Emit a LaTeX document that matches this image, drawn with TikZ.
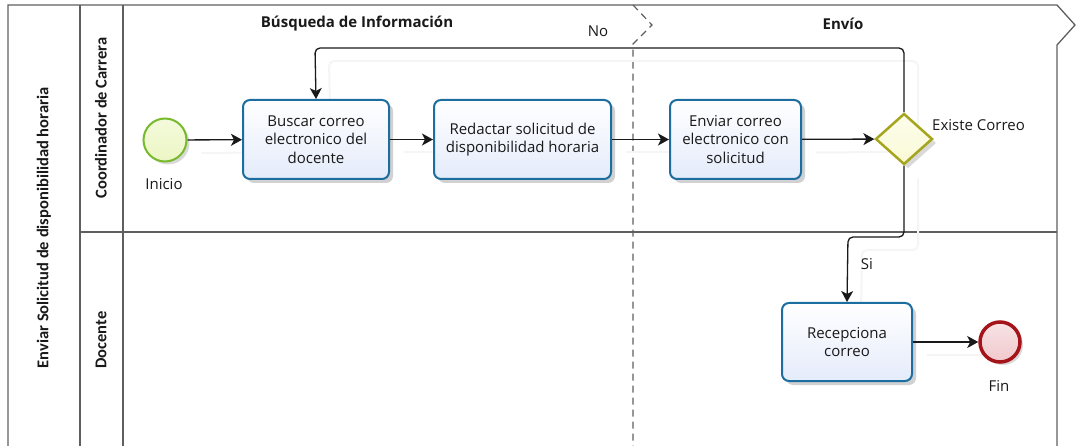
\documentclass[tikz,border=0pt]{standalone}
\usepackage{fontspec}
\setmainfont{Open Sans}
\newfontfamily\lanefont{Carlito}
\usetikzlibrary{shapes.geometric,arrows.meta,shadows}
\definecolor{taskline}{RGB}{28,110,160}
\definecolor{taskfill}{RGB}{228,235,250}
\definecolor{startline}{RGB}{120,185,45}
\definecolor{startfill}{RGB}{236,246,196}
\definecolor{endline}{RGB}{165,20,25}
\definecolor{endfill}{RGB}{240,200,204}
\definecolor{gwline}{RGB}{165,165,30}
\definecolor{gwfill}{RGB}{250,250,215}
\definecolor{poolline}{RGB}{95,95,95}
\definecolor{txt}{RGB}{25,25,25}
\pgfdeclarelayer{bg}
\pgfsetlayers{bg,main}
\tikzset{
  task/.style={rectangle, rounded corners=7pt, draw=taskline, line width=2pt,
    top color=white, bottom color=taskfill, text=txt, align=center, inner sep=0pt,
    font=\fontsize{15}{18.5}\selectfont,
    drop shadow={shadow xshift=4pt, shadow yshift=-4pt, opacity=.18, fill=black}},
  startev/.style={circle, minimum size=43pt, inner sep=0pt, draw=startline, line width=2pt,
    top color=white!40!startfill, bottom color=startfill,
    drop shadow={shadow xshift=3pt, shadow yshift=-3pt, opacity=.15, fill=black}},
  endev/.style={circle, minimum size=40pt, inner sep=0pt, draw=endline, line width=3.5pt,
    top color=white!50!endfill, bottom color=endfill,
    drop shadow={shadow xshift=3pt, shadow yshift=-3pt, opacity=.15, fill=black}},
  gateway/.style={diamond, minimum width=57pt, minimum height=51pt, inner sep=0pt,
    draw=gwline, line width=2.5pt, top color=white!50!gwfill, bottom color=gwfill,
    drop shadow={shadow xshift=4pt, shadow yshift=-4pt, opacity=.15, fill=black}},
  lbl/.style={text=txt, font=\fontsize{15}{18}\selectfont, inner sep=0pt},
  phase/.style={text=txt, font=\fontsize{15}{18}\selectfont\bfseries, inner sep=0pt},
  lane/.style={text=txt, font=\lanefont\fontsize{16.5}{19}\selectfont\bfseries, inner sep=0pt, rotate=90},
  frame/.style={draw=poolline, line width=1.3pt},
  flow/.style={draw=black!90, line width=1.3pt, rounded corners=5pt,
    -{Stealth[length=11pt,width=12pt,inset=3pt]}},
  flowshadow/.style={draw=black!4, line width=2pt, rounded corners=5pt}
}
\begin{document}
\begin{tikzpicture}[x=1pt,y=-1pt]
\useasboundingbox (0,0) rectangle (1076,446);
% nodes
\node[startev] (start) at (165,140) {};
\node[lbl] (inicio) at (164,184) {Inicio};
\node[task, minimum width=146pt, minimum height=79pt] (b1) at (316,139.5) {Buscar correo\\electronico del\\docente};
\node[task, minimum width=177pt, minimum height=79pt] (b2) at (522.5,139.5) {Redactar solicitud de\\disponibilidad horaria};
\node[task, minimum width=131pt, minimum height=79pt] (b3) at (735.5,139.5) {Enviar correo\\electronico con\\solicitud};
\node[gateway] (gw) at (904,139) {};
\node[lbl, anchor=west] (existe) at (932,125) {Existe Correo};
\node[task, minimum width=130pt, minimum height=78pt] (b4) at (847,342) {Recepciona\\correo};
\node[endev] (fin) at (1000,342) {};
\node[lbl] (finlbl) at (999,386) {Fin};
\node[lbl] (no) at (598,31) {No};
\node[lbl] (si) at (867,264) {Si};
\node[phase] (ph1) at (357,24) {Búsqueda de Información};
\node[phase] (ph2) at (843,24) {Envío};
\node[lane] (pool) at (44,228) {Enviar Solicitud de disponibilidad horaria};
\node[lane] (lane1) at (101,118) {Coordinador de Carrera};
\node[lane] (lane2) at (101,340) {Docente};
\coordinate (looptop) at (315,48);
\coordinate (sibend) at (848,237);
% pool frame and faint connector shadows
\begin{pgfonlayer}{bg}
\draw[frame] (8,446) -- (8,5) -- (1057,5) -- (1075,25) -- (1057,45) -- (1057,446);
\draw[frame] (80,5) -- (80,446);
\draw[frame] (123,5) -- (123,446);
\draw[frame] (80,232) -- (1057,232);
\draw[draw=poolline, line width=1.2pt, dash pattern=on 7pt off 5pt] (633,5) -- (652,25) -- (633,44) -- (633,446);
\begin{scope}[transform canvas={shift={(14pt,-13pt)}}]
\path[flowshadow] (start.east) -- (b1.west);
\path[flowshadow] (b1.east) -- (b2.west);
\path[flowshadow] (b2.east) -- (b3.west);
\path[flowshadow] (b3.east) -- (gw.west);
\path[flowshadow] (gw.north) |- (looptop) -- (b1.north);
\path[flowshadow] (gw.south) |- (sibend) -- (b4.north);
\path[flowshadow] (b4.east) -- (fin.west);
\end{scope}
\end{pgfonlayer}
% connectors
\draw[flow] (start) -- (b1);
\draw[flow] (b1) -- (b2);
\draw[flow] (b2) -- (b3);
\draw[flow] (b3) -- (gw);
\draw[flow] (gw.north) |- (looptop) -- (b1.north);
\draw[flow] (gw.south) |- (sibend) -- (b4.north);
\draw[flow] (b4) -- (fin);
\end{tikzpicture}
\end{document}
